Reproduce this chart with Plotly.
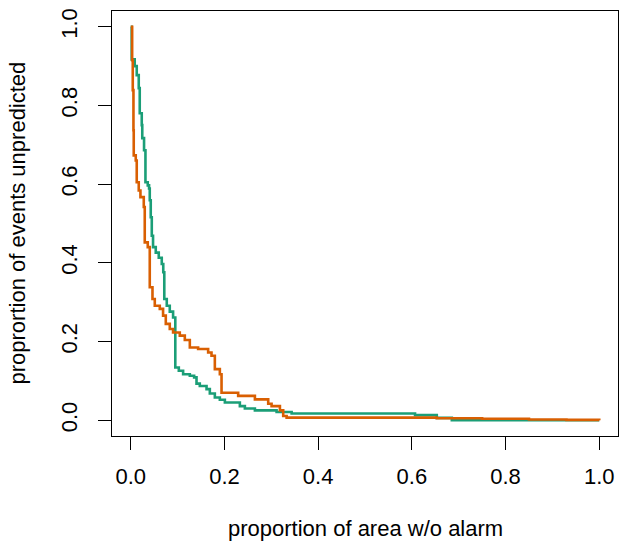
import plotly.graph_objects as go

# Molchan-style error curves: fraction of area covered by alarm vs. fraction of missed events
area_green = [0.000, 0.002, 0.0085, 0.0128, 0.0171, 0.0192, 0.0235, 0.0246, 0.0284, 0.0314,
              0.0363, 0.0391, 0.0406, 0.0427, 0.0449, 0.0476, 0.0534, 0.0598, 0.0662, 0.0694,
              0.0716, 0.0769, 0.0833, 0.0904, 0.0951, 0.1026, 0.1118, 0.1261, 0.1353, 0.1404,
              0.1474, 0.1618, 0.1688, 0.1795, 0.1902, 0.2009, 0.2329, 0.2436, 0.2650, 0.3113,
              0.3434, 0.6068, 0.6532, 0.6853, 1.000]
missed_green = [1.000, 0.917, 0.900, 0.877, 0.844, 0.780, 0.750, 0.717, 0.686, 0.605,
                0.597, 0.589, 0.559, 0.516, 0.469, 0.440, 0.426, 0.413, 0.397, 0.376,
                0.308, 0.291, 0.276, 0.261, 0.134, 0.126, 0.117, 0.113, 0.109, 0.093,
                0.087, 0.079, 0.068, 0.058, 0.052, 0.045, 0.036, 0.030, 0.025, 0.021,
                0.017, 0.013, 0.006, 0.000, 0.000]

area_orange = [0.000, 0.003, 0.0043, 0.0058, 0.0064, 0.0107, 0.0128, 0.0171, 0.0207, 0.0278,
               0.0299, 0.0363, 0.0406, 0.0464, 0.0513, 0.0620, 0.0690, 0.0748, 0.0833, 0.0904,
               0.1047, 0.1154, 0.1261, 0.1438, 0.1652, 0.1724, 0.1795, 0.1902, 0.1938, 0.2293,
               0.2650, 0.2934, 0.3006, 0.3184, 0.3254, 0.3327, 0.6532, 0.750, 0.850, 0.930,
               1.000]
missed_orange = [1.000, 0.915, 0.839, 0.737, 0.673, 0.660, 0.605, 0.584, 0.567, 0.542,
                 0.452, 0.440, 0.338, 0.308, 0.291, 0.283, 0.266, 0.245, 0.232, 0.223,
                 0.215, 0.204, 0.185, 0.181, 0.172, 0.164, 0.130, 0.117, 0.070, 0.062,
                 0.053, 0.042, 0.036, 0.025, 0.011, 0.0066, 0.005, 0.004, 0.002, 0.001,
                 0.000]

tick_vals = [0.0, 0.2, 0.4, 0.6, 0.8, 1.0]
tick_text = ["0.0", "0.2", "0.4", "0.6", "0.8", "1.0"]

x_title = "proportion of area w/o alarm"
y_title = "proprortion of events unpredicted"

FONT = "Liberation Sans, Arial, Helvetica, sans-serif"
FS = 22

fig = go.Figure()
fig.add_trace(go.Scatter(x=area_green, y=missed_green, mode="lines",
                         line=dict(color="#1B9E77", width=2.6, shape="hv"),
                         showlegend=False, hoverinfo="skip"))
fig.add_trace(go.Scatter(x=area_orange, y=missed_orange, mode="lines",
                         line=dict(color="#D95F02", width=2.6, shape="hv"),
                         showlegend=False, hoverinfo="skip"))

axis_common = dict(
    range=[-0.04, 1.04], tickvals=tick_vals, ticktext=tick_text,
    showgrid=False, zeroline=False,
    showline=True, mirror=True, linecolor="black", linewidth=1,
    ticks="outside", ticklen=13, tickwidth=1, tickcolor="black",
    tickfont=dict(family=FONT, size=FS, color="black"),
    fixedrange=True,
)
fig.update_xaxes(**axis_common, ticklabelstandoff=8)
fig.update_yaxes(**axis_common, tickangle=-90, ticklabelstandoff=12)

fig.add_annotation(text=x_title, xref="paper", yref="paper", x=0.5, y=-0.2173,
                   xanchor="center", yanchor="middle", showarrow=False,
                   font=dict(family=FONT, size=FS, color="black"))
fig.add_annotation(text=y_title, xref="paper", yref="paper", x=-0.1877, y=0.5,
                   xanchor="center", yanchor="middle", textangle=-90, showarrow=False,
                   font=dict(family=FONT, size=FS, color="black"))

fig.update_layout(
    width=619, height=541,
    margin=dict(l=112, r=1, t=11, b=105),
    paper_bgcolor="white", plot_bgcolor="white",
)

fig.write_html("out.html")
